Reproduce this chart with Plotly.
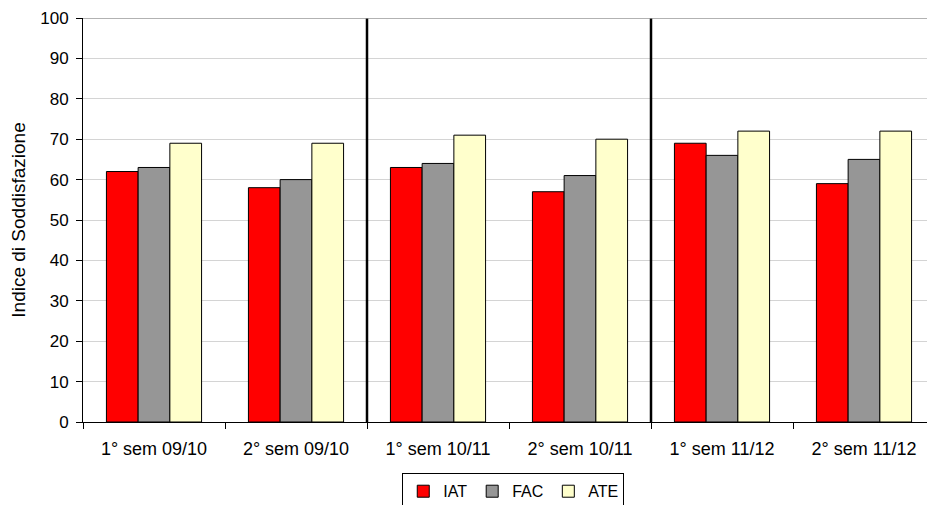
import plotly.graph_objects as go

categories = ["1° sem 09/10", "2° sem 09/10", "1° sem 10/11", "2° sem 10/11", "1° sem 11/12", "2° sem 11/12"]
iat = [62, 58, 63, 57, 69, 59]
fac = [63, 60, 64, 61, 66, 65]
ate = [69, 69, 71, 70, 72, 72]
series_names = ["IAT", "FAC", "ATE"]
series_colors = ["#FF0000", "#969696", "#FFFFCC"]
y_ticks = list(range(0, 101, 10))
year_of = [c.split()[-1] for c in categories]

FONT = "Liberation Sans, Arial, sans-serif"

fig = go.Figure()
for name, vals, col in zip(series_names, [iat, fac, ate], series_colors):
    fig.add_trace(go.Bar(
        x=categories, y=vals, name=name,
        marker=dict(color=col, line=dict(color="#000000", width=1)),
    ))

# separators between academic years
shapes = []
for i in range(1, len(categories)):
    if year_of[i] != year_of[i - 1]:
        shapes.append(dict(type="line", xref="x", yref="y", x0=i - 0.5, x1=i - 0.5,
                           y0=0, y1=100, line=dict(color="#000000", width=2.5)))
# top border of plot area
shapes.append(dict(type="line", xref="paper", yref="y", x0=0, x1=1, y0=100, y1=100,
                   line=dict(color="#999999", width=1.5)))

# page body has an 8px default margin, so the figure is sized to fit inside
fig.update_layout(
    width=927, height=497,
    margin=dict(l=75, r=0, t=10, b=83, autoexpand=False),
    paper_bgcolor="white", plot_bgcolor="white",
    font=dict(family=FONT, size=17, color="#000000"),
    barmode="group", bargap=0.33, bargroupgap=0,
    shapes=shapes,
    showlegend=True,
    legend=dict(orientation="h", x=0.505, xanchor="center", y=-0.127, yanchor="top",
                bordercolor="#000000", borderwidth=1, font=dict(size=16),
                itemwidth=30, tracegroupgap=0),
    xaxis=dict(showline=True, linecolor="#000000", linewidth=1, automargin=False,
               ticks="outside", ticklen=6, tickcolor="#000000", tickson="boundaries",
               ticklabelstandoff=10,
               tickfont=dict(size=18), showgrid=False),
    yaxis=dict(range=[0, 100], tickvals=y_ticks, showline=True, linecolor="#000000", linewidth=1,
               automargin=False,
               ticks="outside", ticklen=6, tickcolor="#000000", ticklabelstandoff=4,
               showgrid=True, gridcolor="#d4d4d4", gridwidth=1, zeroline=False,
               tickfont=dict(size=17),
               title=dict(text="Indice di Soddisfazione", font=dict(size=19), standoff=14)),
)

fig.write_html("out.html")
